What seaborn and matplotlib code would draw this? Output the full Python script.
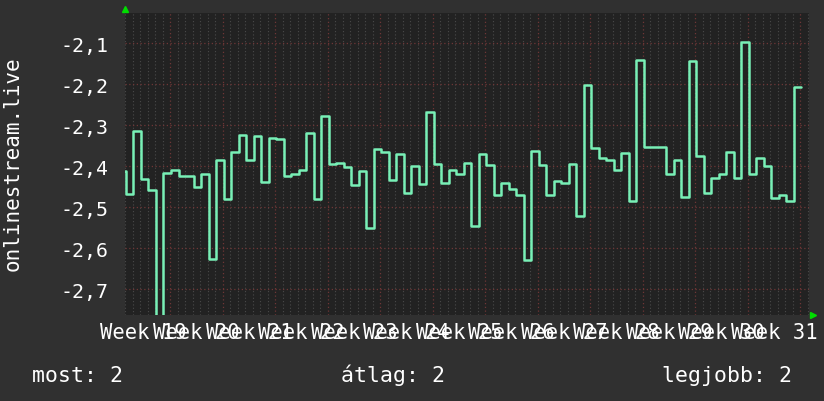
import numpy as np
import pandas as pd
import matplotlib
matplotlib.use('Agg')
import matplotlib.pyplot as plt
import seaborn as sns

# daily values (day 0 tail, then one value per day)
values = [-2.411,
          -2.467, -2.313, -2.431, -2.458, -2.780, -2.416, -2.408, -2.423, -2.425, -2.450,
          -2.419, -2.626, -2.384, -2.480, -2.364, -2.324, -2.384, -2.325, -2.438, -2.330,
          -2.333, -2.423, -2.419, -2.409, -2.319, -2.480, -2.277, -2.394, -2.391, -2.401,
          -2.445, -2.411, -2.550, -2.359, -2.364, -2.433, -2.369, -2.465, -2.400, -2.443,
          -2.267, -2.394, -2.440, -2.408, -2.420, -2.391, -2.545, -2.369, -2.396, -2.469,
          -2.440, -2.455, -2.471, -2.628, -2.362, -2.398, -2.469, -2.436, -2.440, -2.394,
          -2.521, -2.202, -2.356, -2.381, -2.384, -2.409, -2.367, -2.486, -2.140, -2.354,
          -2.354, -2.352, -2.419, -2.384, -2.475, -2.142, -2.374, -2.465, -2.428, -2.420,
          -2.364, -2.428, -2.096, -2.420, -2.381, -2.400, -2.477, -2.469, -2.485, -2.206]
first_day = 1.0
step_offset = 0.13

week_numbers = list(range(19, 32))
week_labels = ['Week %d' % w for w in week_numbers]
ytick_values = [-2.7, -2.6, -2.5, -2.4, -2.3, -2.2, -2.1]
ytick_labels = ['-2,7', '-2,6', '-2,5', '-2,4', '-2,3', '-2,2', '-2,1']
legend_items = ['most: 2', 'átlag: 2', 'legjobb: 2']

days = np.concatenate([[first_day], step_offset + np.arange(1, len(values))])
df = pd.DataFrame({'day': np.append(days, days[-1] + 1), 'value': values + [values[-1]]})

sns.set_theme(style='dark')
plt.rcParams['font.family'] = ['DejaVu Sans Mono', 'DejaVu Sans']

outer = '#303030'
inner = '#222222'
fig = plt.figure(figsize=(8.24, 4.02), dpi=100, facecolor=outer)
ax = fig.add_axes([125 / 824, 86 / 402, 684 / 824, 302 / 402])
ax.set_facecolor(inner)

xmin, xmax = 1.0, 92.15
for d in range(1, 93):
    if d % 7 != 0:
        ax.axvline(d, color='#4a4a4a', lw=0.8, ls=(0, (1, 2)), zorder=1)
for w in range(7, 92, 7):
    ax.axvline(w, color='#6e3636', lw=0.9, ls=(0, (1, 2)), zorder=1.5)
for yv in ytick_values:
    ax.axhline(yv, color='#6e3636', lw=0.9, ls=(0, (1, 2)), zorder=1.5)

sns.lineplot(data=df, x='day', y='value', drawstyle='steps-post', color='#78f0b6',
             lw=1.8, ax=ax, zorder=3)

ax.set_xlim(xmin, xmax)
ax.set_ylim(-2.763, -2.026)
ax.set_xticks([7 * i + 3.5 for i in range(len(week_labels))], labels=week_labels)
ax.set_yticks(ytick_values, labels=ytick_labels)
ax.tick_params(axis='x', length=0, pad=5, labelsize=14.8, colors='white')
ax.tick_params(axis='y', length=0, pad=12, labelsize=14.3, colors='white')
ax.set_xlabel('')
ax.set_ylabel('')
ax.grid(False)
for s in ax.spines.values():
    s.set_visible(False)

# little green arrows at the axis ends
ax.plot([0], [1.012], marker='^', color='#00dd00', ms=5, transform=ax.transAxes, clip_on=False)
ax.plot([1.006], [0], marker='>', color='#00dd00', ms=5, transform=ax.transAxes, clip_on=False)

fig.text(12.5 / 824, (402 - 164) / 402, 'onlinestream.live', rotation=90, ha='center',
         va='center', color='white', fontsize=15)
fig.text(32 / 824, 20 / 402, legend_items[0], ha='left', va='baseline', color='white', fontsize=15.5)
fig.text(341 / 824, 20 / 402, legend_items[1], ha='left', va='baseline', color='white', fontsize=15.5)
fig.text(792 / 824, 20 / 402, legend_items[2], ha='right', va='baseline', color='white', fontsize=15.5)

fig.savefig('out.png', dpi=100, facecolor=outer)
